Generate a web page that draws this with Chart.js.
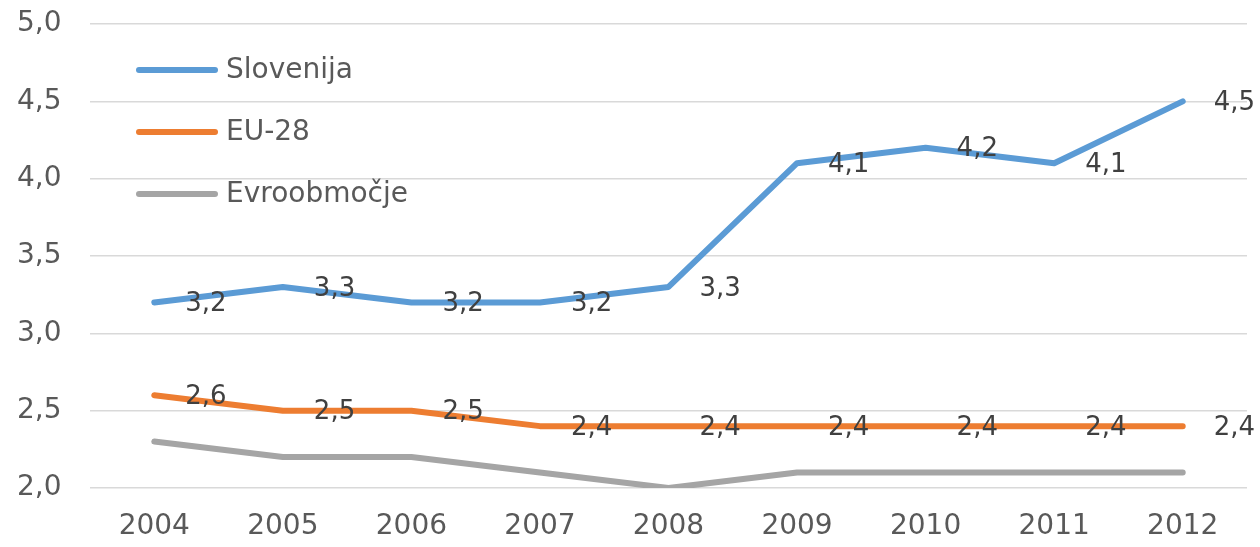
<!DOCTYPE html>
<html>
<head>
<meta charset="utf-8">
<script src="https://cdn.jsdelivr.net/npm/chart.js@4"></script>
<style>
  body { margin: 0; background: #fff; }
  #wrap { width: 1260px; height: 547px; }
</style>
</head>
<body>
<div id="wrap"><canvas id="chart" width="1260" height="547"></canvas></div>
<script>
const years = ["2004", "2005", "2006", "2007", "2008", "2009", "2010", "2011", "2012"];
const slovenija = [3.2, 3.3, 3.2, 3.2, 3.3, 4.1, 4.2, 4.1, 4.5];
const eu28 = [2.6, 2.5, 2.5, 2.4, 2.4, 2.4, 2.4, 2.4, 2.4];
const evro = [2.3, 2.2, 2.2, 2.1, 2.0, 2.1, 2.1, 2.1, 2.1];

const FONT = "'DejaVu Sans', sans-serif";

function fmt(v) {
    return v.toFixed(1).replace(".", ",");
}

// data labels to the right of each point
const labelPlugin = {
    id: "labels",
    afterDatasetsDraw(chart) {
        const ctx = chart.ctx;
        ctx.save();
        ctx.font = "26px " + FONT;
        ctx.fillStyle = "#404040";
        ctx.textAlign = "left";
        ctx.textBaseline = "middle";
        chart.data.datasets.forEach((ds, i) => {
            if (!ds.showLabels) return;
            chart.getDatasetMeta(i).data.forEach((pt, j) => {
                ctx.fillText(fmt(ds.data[j]), pt.x + 31, pt.y + 2);
            });
        });
        ctx.restore();
    }
};

// legend inside the plot, top-left, stacked
const legendPlugin = {
    id: "innerLegend",
    afterDraw(chart) {
        const ctx = chart.ctx;
        ctx.save();
        ctx.font = "28px " + FONT;
        ctx.textBaseline = "middle";
        ctx.textAlign = "left";
        chart.data.datasets.forEach((ds, i) => {
            const y = 70 + i * 62;
            ctx.strokeStyle = ds.borderColor;
            ctx.lineWidth = 6;
            ctx.lineCap = "round";
            ctx.beginPath();
            ctx.moveTo(139, y);
            ctx.lineTo(215, y);
            ctx.stroke();
            ctx.fillStyle = "#595959";
            ctx.fillText(ds.label, 226, y + 1);
        });
        ctx.restore();
    }
};

function series(label, data, color, showLabels) {
    return {
        label: label,
        data: data,
        borderColor: color,
        backgroundColor: color,
        borderWidth: 6,
        borderCapStyle: "round",
        borderJoinStyle: "round",
        pointRadius: 0,
        tension: 0,
        fill: false,
        showLabels: showLabels
    };
}

new Chart(document.getElementById("chart"), {
    type: "line",
    data: {
        labels: years,
        datasets: [
            series("Slovenija", slovenija, "#5B9BD5", true),
            series("EU-28", eu28, "#ED7D31", true),
            series("Evroobmočje", evro, "#A5A5A5", false)
        ]
    },
    options: {
        responsive: false,
        animation: false,
        layout: { padding: { top: 24, right: 13, left: 17, bottom: 0 } },
        plugins: {
            legend: { display: false },
            tooltip: { enabled: false }
        },
        scales: {
            x: {
                offset: true,
                grid: { display: false, drawTicks: false },
                border: { display: false },
                ticks: {
                    color: "#595959",
                    font: { family: FONT, size: 28 },
                    padding: 22,
                    maxRotation: 0
                },
                afterFit(scale) { scale.height = 59; }
            },
            y: {
                min: 2,
                max: 5,
                grid: { color: "#D9D9D9", lineWidth: 1.5, drawTicks: false },
                border: { display: false },
                ticks: {
                    stepSize: 0.5,
                    color: "#595959",
                    font: { family: FONT, size: 28 },
                    padding: 4,
                    crossAlign: "far",
                    callback: v => fmt(v)
                },
                afterFit(scale) { scale.width = 73; }
            }
        }
    },
    plugins: [labelPlugin, legendPlugin]
});
</script>
</body>
</html>
